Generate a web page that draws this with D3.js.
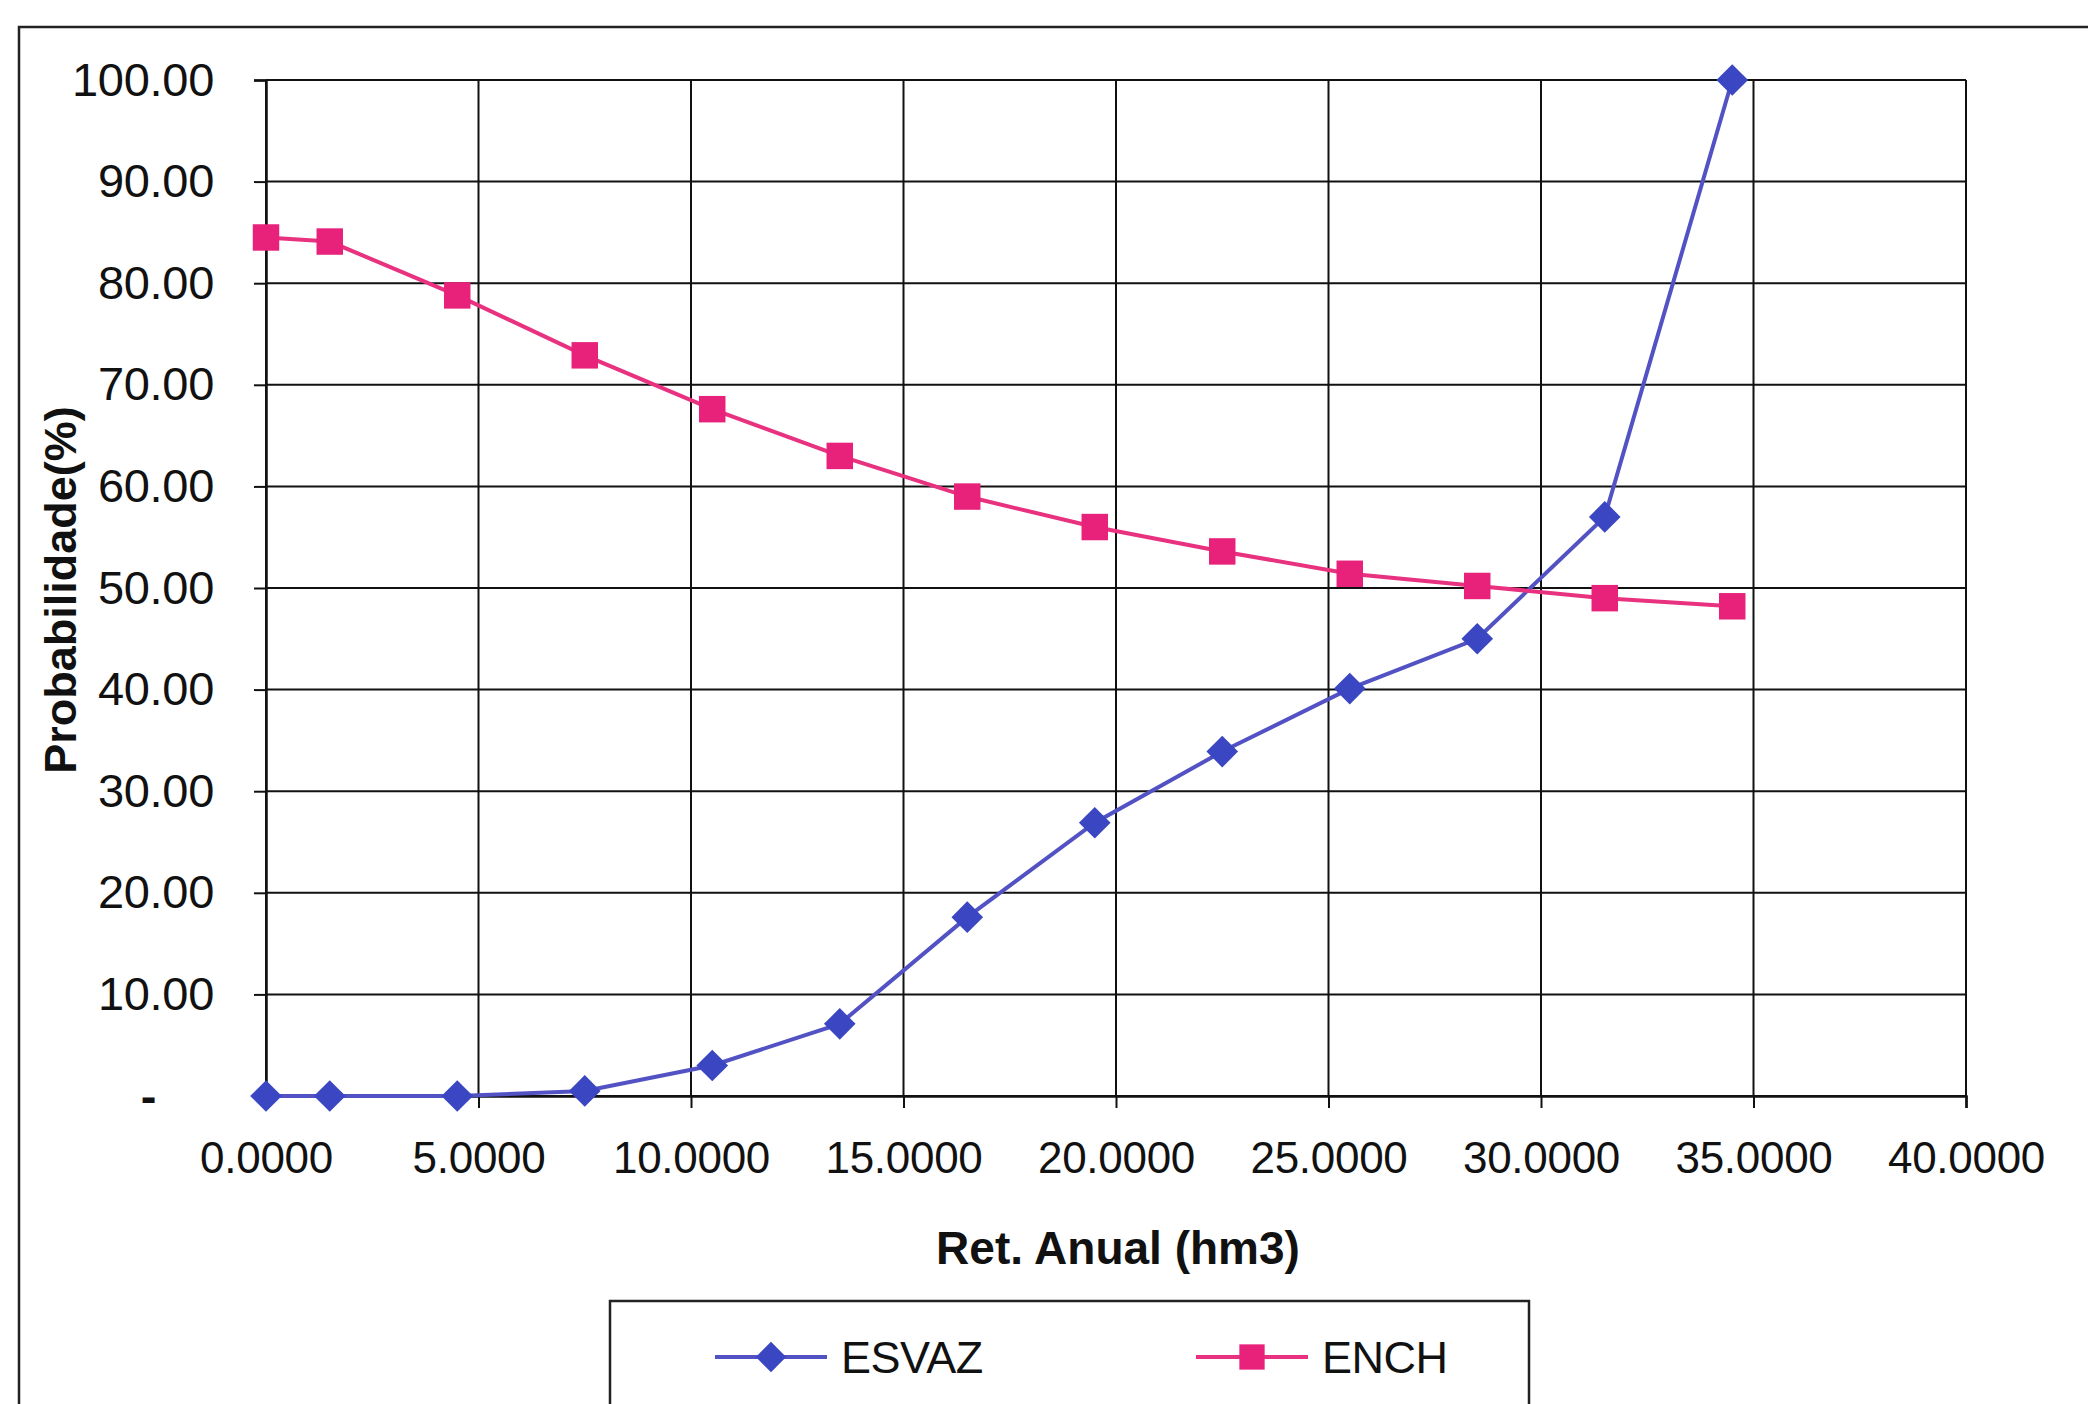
<!DOCTYPE html>
<html>
<head>
<meta charset="utf-8">
<script src="https://cdn.jsdelivr.net/npm/d3@7"></script>
<style>
  html, body { margin: 0; padding: 0; background: #fff; }
  svg { display: block; }
  text { font-family: "Liberation Sans", Arial, sans-serif; fill: #111; }
</style>
</head>
<body>
<svg id="chart" width="2088" height="1404"></svg>
<script>
// ---- data ----
const retAnual = [0, 1.5, 4.5, 7.5, 10.5, 13.5, 16.5, 19.5, 22.5, 25.5, 28.5, 31.5, 34.5];
const esvaz = [0, 0, 0, 0.5, 3.0, 7.1, 17.6, 26.9, 33.9, 40.1, 45.0, 57.0, 100];
const ench  = [84.5, 84.1, 78.8, 72.9, 67.6, 63.0, 59.0, 56.0, 53.6, 51.4, 50.2, 49.0, 48.2];
const xTicks = [0, 5, 10, 15, 20, 25, 30, 35, 40];
const yTicks = [0, 10, 20, 30, 40, 50, 60, 70, 80, 90, 100];
const seriesNames = ["ESVAZ", "ENCH"];
const xTitle = "Ret. Anual (hm3)";
const yTitle = "Probabilidade(%)";

const colors = { ESVAZ: { line: "#5252c4", mark: "#3a46c2" }, ENCH: { line: "#e8327f", mark: "#e8217a" } };

const svg = d3.select("#chart");
const plot = { left: 266, right: 1966, top: 80, bottom: 1096 };

// outer chart border (extends past right/bottom edge)
svg.append("rect").attr("x", 19).attr("y", 27).attr("width", 2200).attr("height", 1500)
  .attr("fill", "#fff").attr("stroke", "#222").attr("stroke-width", 2.5);

const x = d3.scaleLinear().domain([0, 40]).range([plot.left, plot.right]);
const y = d3.scaleLinear().domain([0, 100]).range([plot.bottom, plot.top]);

// gridlines
const g = svg.append("g");
g.selectAll("line.vg").data(xTicks).join("line").attr("class", "vg")
  .attr("x1", d => x(d)).attr("x2", d => x(d)).attr("y1", plot.top).attr("y2", plot.bottom)
  .attr("stroke", "#111").attr("stroke-width", 2);
g.selectAll("line.hg").data(yTicks).join("line").attr("class", "hg")
  .attr("x1", plot.left).attr("x2", plot.right).attr("y1", d => y(d)).attr("y2", d => y(d))
  .attr("stroke", "#111").attr("stroke-width", 2);

const fontFam = '"Liberation Sans", Arial, sans-serif';

// axes
const xAxis = d3.axisBottom(x).tickValues(xTicks).tickSize(12).tickPadding(34)
  .tickFormat(d => d3.format(".4f")(d));
const gx = svg.append("g").attr("transform", `translate(0,${plot.bottom})`).call(xAxis);
gx.select(".domain").attr("stroke", "#111").attr("stroke-width", 2.5);
gx.selectAll(".tick line").attr("stroke", "#111").attr("stroke-width", 2);
gx.selectAll(".tick text").attr("font-size", 44).attr("letter-spacing", -0.3)
  .attr("fill", "#111").style("font-family", fontFam);

const yAxis = d3.axisLeft(y).tickValues(yTicks).tickSize(12).tickPadding(40)
  .tickFormat(d => d === 0 ? "-" : d3.format(".2f")(d));
const gy = svg.append("g").attr("transform", `translate(${plot.left},0)`).call(yAxis);
gy.select(".domain").attr("stroke", "#111").attr("stroke-width", 2.5);
gy.selectAll(".tick line").attr("stroke", "#111").attr("stroke-width", 2);
gy.selectAll(".tick text").attr("font-size", 47).attr("letter-spacing", -0.3)
  .attr("fill", "#111").style("font-family", fontFam);
gy.selectAll(".tick").filter(d => d === 0).select("text").attr("dx", -58).attr("font-weight", "bold");

// axis titles
svg.append("text").attr("x", 1118).attr("y", 1264).attr("text-anchor", "middle")
  .attr("font-size", 46).attr("font-weight", "bold").text(xTitle);
svg.append("text").attr("transform", "translate(76,590) rotate(-90)").attr("text-anchor", "middle")
  .attr("font-size", 45).attr("font-weight", "bold").text(yTitle);

// series
const diamond = { draw(ctx, size) { const r = Math.sqrt(size / 2); ctx.moveTo(0, -r); ctx.lineTo(r, 0); ctx.lineTo(0, r); ctx.lineTo(-r, 0); ctx.closePath(); } };
const seriesData = [
  { name: "ESVAZ", vals: esvaz, shape: diamond, size: 500 },
  { name: "ENCH", vals: ench, shape: d3.symbolSquare, size: 700 }
];
const line = d3.line().x(d => x(d[0])).y(d => y(d[1]));
seriesData.forEach(s => {
  const pts = retAnual.map((v, i) => [v, s.vals[i]]);
  svg.append("path").datum(pts).attr("d", line).attr("fill", "none")
    .attr("stroke", colors[s.name].line).attr("stroke-width", 4);
  svg.selectAll(null).data(pts).join("path")
    .attr("transform", d => `translate(${x(d[0])},${y(d[1])})`)
    .attr("d", d3.symbol().type(s.shape).size(s.size))
    .attr("fill", colors[s.name].mark);
});

// legend
const lg = svg.append("g");
lg.append("rect").attr("x", 610).attr("y", 1301).attr("width", 919).attr("height", 200)
  .attr("fill", "#fff").attr("stroke", "#222").attr("stroke-width", 2.5);
const legendItems = [
  { name: seriesNames[0], x0: 715, shape: diamond, size: 460 },
  { name: seriesNames[1], x0: 1196, shape: d3.symbolSquare, size: 640 }
];
const ly = 1357;
legendItems.forEach(it => {
  lg.append("line").attr("x1", it.x0).attr("x2", it.x0 + 112).attr("y1", ly).attr("y2", ly)
    .attr("stroke", colors[it.name].line).attr("stroke-width", 4);
  lg.append("path").attr("transform", `translate(${it.x0 + 56},${ly})`)
    .attr("d", d3.symbol().type(it.shape).size(it.size)).attr("fill", colors[it.name].mark);
  lg.append("text").attr("x", it.x0 + 126).attr("y", ly + 16).attr("font-size", 45)
    .attr("letter-spacing", -0.5).text(it.name);
});
</script>
</body>
</html>
